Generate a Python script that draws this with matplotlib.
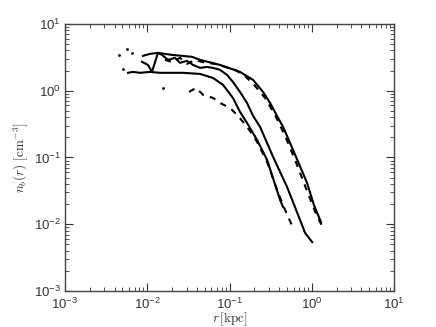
import numpy as np
import matplotlib
matplotlib.use("Agg")
import matplotlib.pyplot as plt

plt.rcParams['font.family'] = ['Liberation Sans', 'DejaVu Sans']
plt.rcParams['mathtext.fontset'] = 'cm'

# radius in kpc, density in cm^-3
r_outer = [0.00887, 0.0108, 0.0135, 0.0200, 0.0350, 0.0438, 0.0766, 0.134, 0.193,
           0.255, 0.311, 0.389, 0.447, 0.592, 0.875, 1.06, 1.29]
n_outer = [3.32, 3.56, 3.68, 3.43, 3.21, 2.89, 2.43, 1.91, 1.45,
           0.957, 0.655, 0.391, 0.287, 0.129, 0.0415, 0.0194, 0.0108]

r_mid = [0.00863, 0.0102, 0.0114, 0.0135, 0.0151, 0.0179, 0.0217, 0.0250, 0.0304,
         0.0360, 0.0438, 0.0532, 0.0630, 0.0766, 0.0933, 0.110, 0.134, 0.163,
         0.193, 0.235, 0.338, 0.500, 0.719, 0.828, 1.01]
n_mid = [2.70, 2.43, 1.91, 3.68, 3.43, 2.89, 3.10, 2.61, 2.79,
         2.43, 2.19, 2.27, 2.19, 2.05, 1.72, 1.35, 0.957, 0.655,
         0.42, 0.287, 0.102, 0.0361, 0.0116, 0.0074, 0.0054]

r_inner = [0.00583, 0.0067, 0.00817, 0.0108, 0.0143, 0.0272, 0.0438, 0.063, 0.0834,
           0.110, 0.134, 0.163, 0.216, 0.286, 0.411, 0.447]
n_inner = [1.85, 1.91, 1.85, 1.91, 1.85, 1.85, 1.78, 1.55, 1.22,
           0.778, 0.481, 0.329, 0.183, 0.0918, 0.0231, 0.0181]

r_inner_d = [0.0322, 0.0392, 0.0477, 0.063, 0.0766, 0.101, 0.123, 0.146, 0.177,
             0.216, 0.286, 0.378, 0.473, 0.592]
n_inner_d = [0.957, 1.10, 0.863, 0.778, 0.655, 0.552, 0.434, 0.340, 0.250,
             0.171, 0.0857, 0.0326, 0.0163, 0.0088]

r_outer_d = [0.0164, 0.0200, 0.0250, 0.0304, 0.0381, 0.0504, 0.0667, 0.0882, 0.117,
             0.154, 0.204, 0.270, 0.357, 0.473, 0.625, 0.828, 1.10, 1.33]
n_outer_d = [2.89, 2.70, 3.10, 2.52, 2.89, 2.61, 2.52, 2.27, 2.05,
             1.66, 1.18, 0.778, 0.434, 0.210, 0.0918, 0.0374, 0.0153, 0.0094]

# stray points at small radius
r_dots = [0.00454, 0.00568, 0.00653, 0.00507, 0.0155]
n_dots = [3.43, 4.22, 3.68, 2.12, 1.10]

fig = plt.figure(figsize=(4.36, 3.27), dpi=100)
ax = fig.add_axes([0.149, 0.110, 0.755, 0.817])

ax.plot(r_outer, n_outer, color='black', lw=1.5)
ax.plot(r_mid, n_mid, color='black', lw=1.5)
ax.plot(r_inner, n_inner, color='black', lw=1.5)
ax.plot(r_outer_d, n_outer_d, color='black', lw=1.5, ls=(0, (3, 3)))
ax.plot(r_inner_d, n_inner_d, color='black', lw=1.5, ls=(0, (3, 3)))
ax.plot(r_dots, n_dots, ls='none', marker='s', ms=0.9, color='black')

ax.set_xscale('log')
ax.set_yscale('log')
ax.set_xlim(1e-3, 1e1)
ax.set_ylim(1e-3, 1e1)

ax.tick_params(which='both', direction='in', top=True, right=True,
               labelsize=9.5, colors='#333333')
ax.tick_params(axis='x', pad=4)
ax.tick_params(axis='y', pad=3)
ax.tick_params(which='major', length=6, width=0.8)
ax.tick_params(which='minor', length=3, width=0.6)
for s in ax.spines.values():
    s.set_color('#444444')
    s.set_linewidth(1.0)

ax.set_xlabel(r'$r\,[\mathrm{kpc}]$', fontsize=9.5, color='#333333', labelpad=-1)
ax.set_ylabel(r'$n_b(r)\ [\mathrm{cm}^{-3}]$', fontsize=9.5, color='#333333', labelpad=3)

fig.savefig('out.png', dpi=100)
